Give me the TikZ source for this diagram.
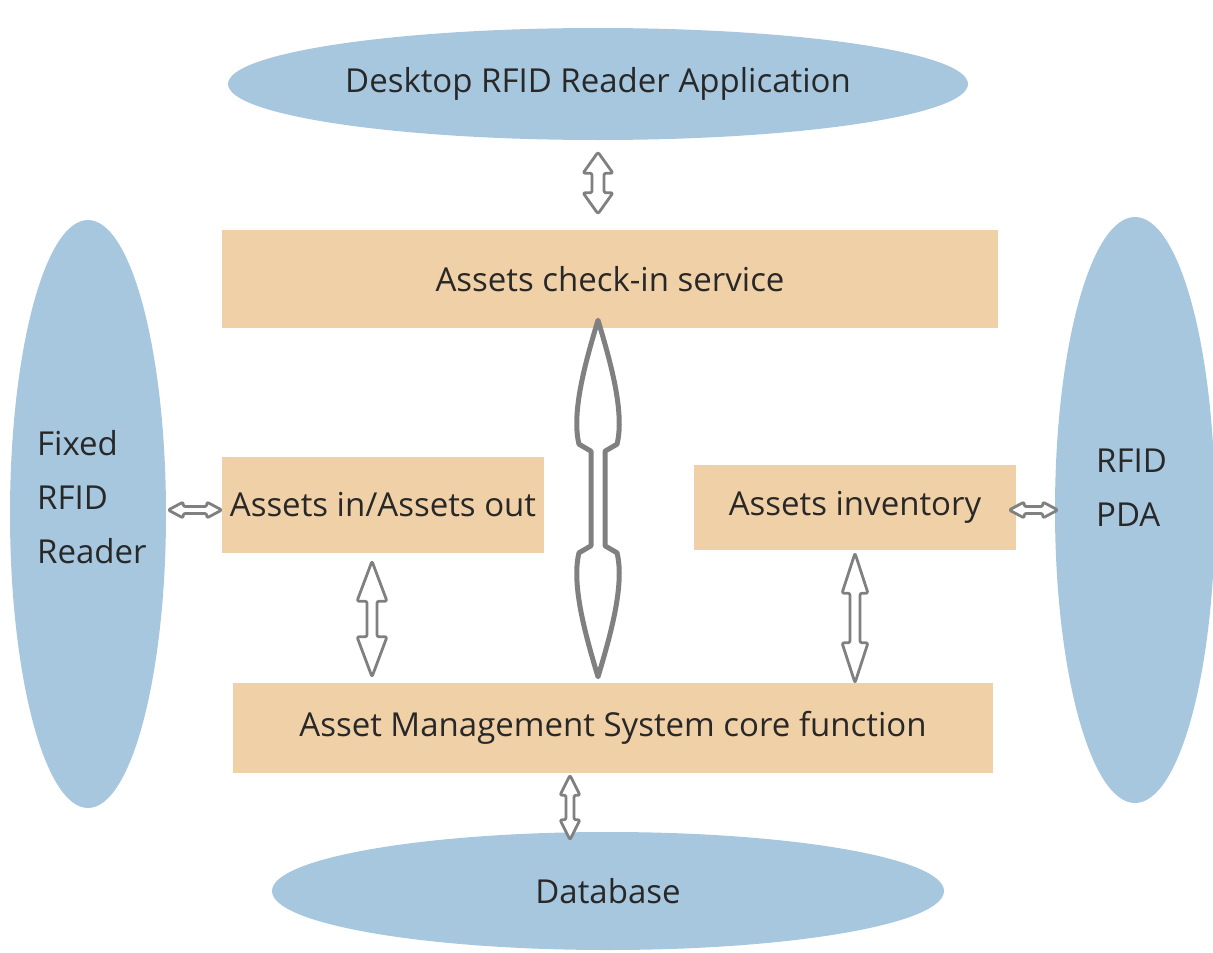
\documentclass[tikz,border=0pt]{standalone}
\usepackage{fontspec}
\setmainfont{Open Sans}
\usetikzlibrary{calc,shapes.geometric}
\definecolor{ellblue}{RGB}{166,199,222}
\definecolor{boxtan}{RGB}{240,209,167}
\definecolor{txt}{RGB}{40,40,40}
\definecolor{arrgray}{RGB}{128,128,128}
\tikzset{
  ell/.style={ellipse, fill=ellblue, draw=none, inner sep=0pt},
  tanbox/.style={rectangle, fill=boxtan, draw=none, inner sep=0pt},
  lbl/.style={text=txt, font=\fontsize{33}{54}\selectfont},
  barrow/.style={draw=arrgray, fill=white, line width=2.8pt, line join=round, rounded corners=2pt},
  bigarrow/.style={draw=arrgray, fill=white, line width=5pt, line join=round},
}
% #1 style, #2 from, #3 to, #4 shaft half width, #5 head half width, #6 head length (all pt)
\newcommand\blockarrow[6]{%
  \draw[#1] (#2)
    -- ($(#2)!#6pt!(#3)!#5pt!90:(#3)$)
    -- ($(#2)!#6pt!(#3)!#4pt!90:(#3)$)
    -- ($(#3)!#6pt!(#2)!#4pt!-90:(#2)$)
    -- ($(#3)!#6pt!(#2)!#5pt!-90:(#2)$)
    -- (#3)
    -- ($(#3)!#6pt!(#2)!#5pt!90:(#2)$)
    -- ($(#3)!#6pt!(#2)!#4pt!90:(#2)$)
    -- ($(#2)!#6pt!(#3)!#4pt!-90:(#3)$)
    -- ($(#2)!#6pt!(#3)!#5pt!-90:(#3)$)
    -- cycle;}
\begin{document}
\begin{tikzpicture}[x=1pt,y=-1pt]
\useasboundingbox (0,0) rectangle (1213,953);
% ellipses
\node[ell, minimum width=740, minimum height=112] (desk) at (598,84) {};
\node[lbl] at (desk.center) {Desktop RFID Reader Application};
\node[ell, minimum width=156, minimum height=588] (fixed) at (88,514) {};
\node[lbl, align=left, anchor=west, inner sep=0pt] at (37,497) {Fixed\\RFID\\Reader};
\node[ell, minimum width=160, minimum height=586] (pda) at (1135,510) {};
\node[lbl, align=left, anchor=west, inner sep=0pt] at (1096,488) {RFID\\PDA};
\node[ell, minimum width=672, minimum height=118] (db) at (608,891) {};
\node[lbl] at (db.center) {Database};
% boxes
\node[tanbox, minimum width=776, minimum height=98] (checkin) at (610,279) {};
\node[lbl] at (checkin.center) {Assets check-in service};
\node[tanbox, minimum width=322, minimum height=96] (inout) at (383,505) {};
\node[lbl] at (inout.center) {Assets in/Assets out};
\node[tanbox, minimum width=322, minimum height=85] (inv) at (855,507.5) {};
\node[lbl] at (inv.center) {Assets inventory};
\node[tanbox, minimum width=760, minimum height=90] (core) at (613,728) {};
\node[lbl] at (core.center) {Asset Management System core function};
% connector end points
\coordinate (a1) at ($(desk.south) + (0,12)$);
\coordinate (a2) at ($(checkin.north) + (-12,-16)$);
\coordinate (b1) at ($(checkin.south) + (-12,-8)$);
\coordinate (b2) at ($(core.north) + (-15,-6)$);
\coordinate (c1) at ($(fixed.east) + (2,-4)$);
\coordinate (c2) at ($(inout.west) + (0,5)$);
\coordinate (d1) at ($(inv.east) + (-7,2.5)$);
\coordinate (d2) at ($(pda.west) + (3,0)$);
\coordinate (e1) at ($(inout.south) + (-11,8)$);
\coordinate (e2) at ($(core.north) + (-241,-6)$);
\coordinate (f1) at ($(inv.south) + (0,3)$);
\coordinate (f2) at ($(core.north) + (242,0)$);
\coordinate (g1) at ($(core.south) + (-43,2)$);
\coordinate (g2) at ($(db.north) + (-38,8)$);
% arrows
\blockarrow{barrow}{a1}{a2}{6}{15}{21}
% big double arrow with teardrop heads
\draw[bigarrow] (b1)
  .. controls ($(b1)!40pt!(b2)!12pt!90:(b2)$) and ($(b1)!92pt!(b2)!27pt!90:(b2)$)
  .. ($(b1)!124pt!(b2)!19pt!90:(b2)$)
  -- ($(b1)!131pt!(b2)!7pt!90:(b2)$)
  -- ($(b2)!131pt!(b1)!7pt!-90:(b1)$)
  -- ($(b2)!124pt!(b1)!19pt!-90:(b1)$)
  .. controls ($(b2)!92pt!(b1)!27pt!-90:(b1)$) and ($(b2)!40pt!(b1)!12pt!-90:(b1)$)
  .. (b2)
  .. controls ($(b2)!40pt!(b1)!12pt!90:(b1)$) and ($(b2)!92pt!(b1)!27pt!90:(b1)$)
  .. ($(b2)!124pt!(b1)!19pt!90:(b1)$)
  -- ($(b2)!131pt!(b1)!7pt!90:(b1)$)
  -- ($(b1)!131pt!(b2)!7pt!-90:(b2)$)
  -- ($(b1)!124pt!(b2)!19pt!-90:(b2)$)
  .. controls ($(b1)!92pt!(b2)!27pt!-90:(b2)$) and ($(b1)!40pt!(b2)!12pt!-90:(b2)$)
  .. cycle;
\blockarrow{barrow}{c1}{c2}{3.5}{8}{15}
\blockarrow{barrow}{d1}{d2}{3.5}{8}{15}
\blockarrow{barrow}{e1}{e2}{5}{15}{40}
\blockarrow{barrow}{f1}{f2}{5}{13}{40}
\blockarrow{barrow}{g1}{g2}{4}{10}{20}
\end{tikzpicture}
\end{document}
